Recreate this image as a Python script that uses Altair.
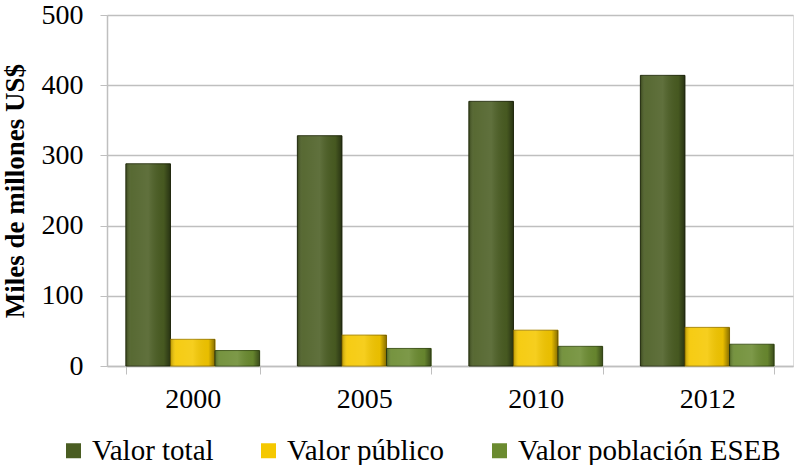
import altair as alt
import pandas as pd

years = ["2000", "2005", "2010", "2012"]
series = ["Valor total", "Valor público", "Valor población ESEB"]
valor_total = [288, 328, 377, 414]
valor_publico = [38, 44, 51, 55]
valor_eseb = [22, 25, 28, 31]
colors = ["#4A5D22", "#F5C800", "#6B8B30"]
strokes = ["#26300F", "#A88600", "#3E5418"]

rows = []
for i, yr in enumerate(years):
    for s, vals in zip(series, [valor_total, valor_publico, valor_eseb]):
        rows.append({"year": yr, "serie": s, "valor": vals[i]})
df = pd.DataFrame(rows)

font = "Times New Roman, Liberation Serif, serif"
grid = "#BFBFBF"

x_enc = alt.X("year:N", sort=years,
              scale=alt.Scale(paddingInner=0.22, paddingOuter=0.11),
              axis=alt.Axis(title=None, labelAngle=0, tickBand="extent",
                            labelFont=font, labelFontSize=28, labelColor="#000000",
                            labelPadding=11, tickSize=8, tickColor=grid,
                            domainColor=grid, domainWidth=1.5, grid=False))
xo_enc = alt.XOffset("serie:N", sort=series, scale=alt.Scale(domain=series, paddingInner=0))
y_enc = alt.Y("valor:Q", scale=alt.Scale(domain=[0, 500], nice=False),
              axis=alt.Axis(values=[0, 100, 200, 300, 400, 500],
                            title="Miles de millones US$",
                            titleFont=font, titleFontSize=27, titleFontWeight="bold",
                            titleColor="#000000", titlePadding=12,
                            labelFont=font, labelFontSize=28, labelColor="#000000",
                            labelPadding=17, tickSize=7, tickColor=grid,
                            domainColor=grid, domainWidth=1.5,
                            grid=True, gridColor=grid, gridWidth=1.5))

base = alt.Chart(df).mark_bar(strokeWidth=1).encode(
    x=x_enc, xOffset=xo_enc, y=y_enc,
    color=alt.Color("serie:N", sort=series,
                    scale=alt.Scale(domain=series, range=colors),
                    legend=alt.Legend(orient="none", direction="horizontal",
                                      legendX=-48, legendY=421, title=None,
                                      symbolType="square", symbolSize=225,
                                      symbolStrokeWidth=0,
                                      labelFont=font, labelFontSize=29,
                                      labelColor="#000000", columnPadding=40,
                                      labelOffset=4, labelLimit=400)),
    stroke=alt.Stroke("serie:N", sort=series,
                      scale=alt.Scale(domain=series, range=strokes), legend=None),
)

shade = alt.Chart(df).mark_bar(
    fill=alt.Gradient(
        gradient="linear", x1=0, x2=1, y1=0, y2=0,
        stops=[
            alt.GradientStop(offset=0, color="rgba(0,0,0,0.25)"),
            alt.GradientStop(offset=0.12, color="rgba(255,255,255,0.08)"),
            alt.GradientStop(offset=0.5, color="rgba(255,255,255,0.12)"),
            alt.GradientStop(offset=0.85, color="rgba(0,0,0,0.05)"),
            alt.GradientStop(offset=1, color="rgba(0,0,0,0.45)"),
        ],
    ),
    strokeWidth=0,
).encode(x=x_enc, xOffset=xo_enc, y=y_enc)

chart = alt.layer(base, shade).properties(
    width=686, height=351,
    autosize=alt.AutoSizeParams(type="none"),
    padding={"left": 107, "top": 15, "right": 5, "bottom": 99},
).configure_view(stroke=grid, strokeWidth=1.5).configure(background="#FFFFFF", font=font)

chart.save("out.html", embed_options={"renderer": "svg", "actions": False})
